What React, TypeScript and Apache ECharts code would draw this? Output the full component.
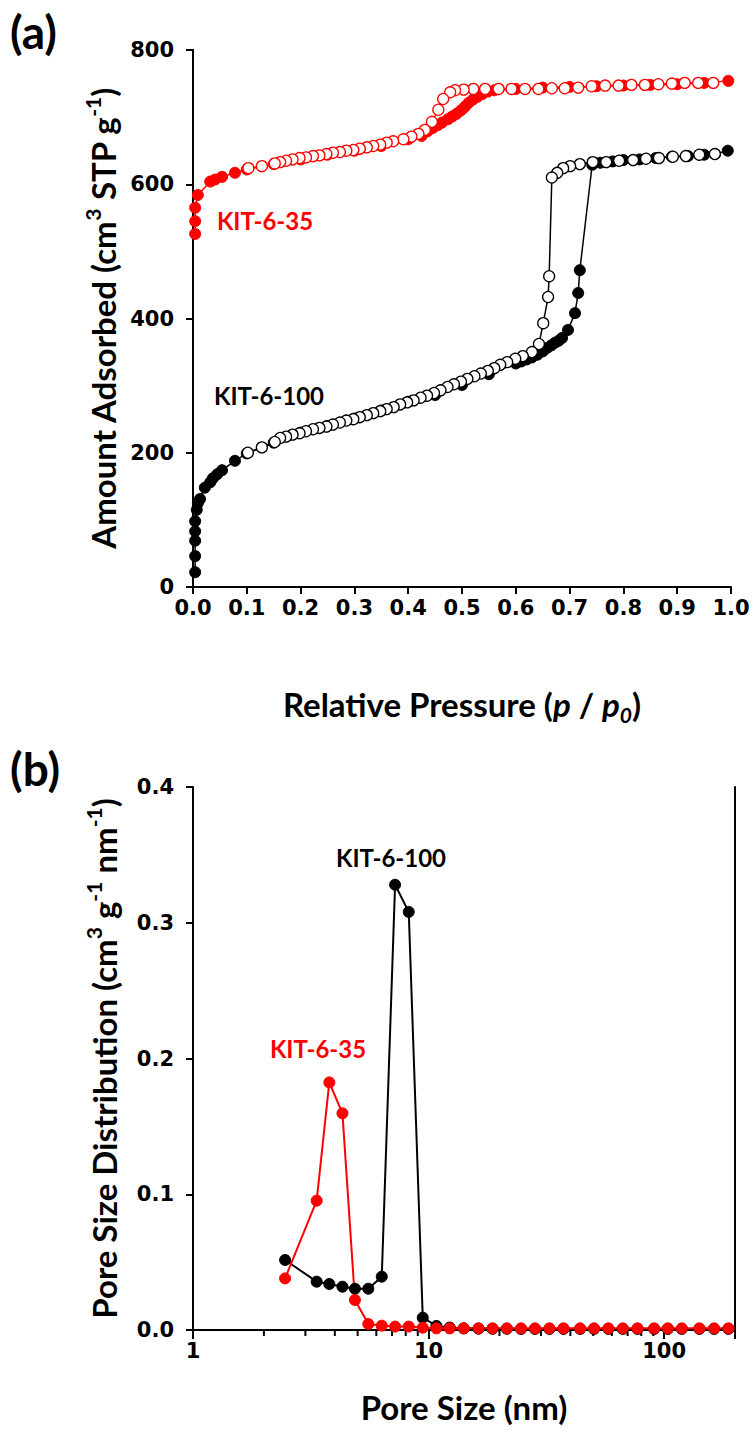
import React, { useEffect, useRef } from 'react';
import * as echarts from 'echarts';

// ---------- (a) N2 isotherms ----------
const k100AdsP = [0.004, 0.004, 0.004, 0.004, 0.004, 0.007, 0.009, 0.013, 0.022, 0.032, 0.037, 0.045, 0.054, 0.078, 0.10, 0.15, 0.20, 0.25, 0.30, 0.35, 0.40, 0.45, 0.50, 0.55, 0.60, 0.61, 0.62, 0.63, 0.64, 0.65, 0.658, 0.666, 0.673, 0.680, 0.686, 0.697, 0.710, 0.716, 0.719, 0.742, 0.757, 0.78, 0.80, 0.83, 0.86, 0.89, 0.92, 0.95, 0.97, 0.994];
const k100AdsQ = [22, 46, 69, 83, 98, 115, 125, 131, 148, 156, 162, 168, 174, 188, 199, 215, 230, 240, 251, 263, 276, 286, 301, 317, 333, 336, 339, 342, 346, 351, 356, 360, 364, 367, 371, 383, 408, 438, 472, 629, 632, 634, 636, 637, 639, 641, 642, 644, 645, 650];

const k100DesP = [0.970, 0.941, 0.916, 0.892, 0.866, 0.842, 0.818, 0.792, 0.768, 0.743, 0.719, 0.701, 0.688, 0.677, 0.667, 0.662, 0.660, 0.651, 0.643, 0.630, 0.613, 0.599, 0.584, 0.571, 0.560, 0.548, 0.535, 0.523, 0.510, 0.498, 0.485, 0.473, 0.460, 0.448, 0.435, 0.423, 0.410, 0.398, 0.385, 0.373, 0.360, 0.348, 0.335, 0.323, 0.310, 0.298, 0.285, 0.273, 0.260, 0.248, 0.235, 0.223, 0.210, 0.198, 0.185, 0.173, 0.162, 0.152, 0.128, 0.102];
const k100DesQ = [645, 644, 642, 641, 639, 638, 636, 635, 633, 633, 630, 627, 624, 617, 610, 463, 432, 393, 362, 350, 344, 340, 335, 331, 326, 322, 318, 314, 310, 306, 302, 298, 293, 289, 285, 282, 278, 275, 272, 268, 265, 262, 259, 256, 253, 250, 248, 245, 242, 239, 237, 235, 232, 229, 227, 224, 222, 216, 208, 200];

const k35AdsP = [0.004, 0.004, 0.004, 0.009, 0.032, 0.041, 0.054, 0.078, 0.10, 0.15, 0.20, 0.25, 0.30, 0.35, 0.40, 0.425, 0.436, 0.446, 0.455, 0.463, 0.474, 0.482, 0.490, 0.498, 0.505, 0.512, 0.520, 0.528, 0.537, 0.548, 0.56, 0.60, 0.65, 0.70, 0.75, 0.80, 0.85, 0.90, 0.95, 0.995];
const k35AdsQ = [526, 545, 565, 584, 604, 607, 611, 617, 622, 630, 637, 644, 650, 657, 667, 672, 679, 684, 688, 692, 697, 701, 705, 710, 715, 721, 726, 730, 734, 738, 740, 742, 744, 745, 746, 747, 748, 749, 751, 754];

const k35DesP = [0.967, 0.939, 0.914, 0.890, 0.865, 0.840, 0.815, 0.791, 0.766, 0.741, 0.716, 0.691, 0.667, 0.642, 0.617, 0.592, 0.568, 0.543, 0.521, 0.503, 0.487, 0.478, 0.465, 0.456, 0.444, 0.431, 0.419, 0.406, 0.391, 0.372, 0.360, 0.348, 0.335, 0.323, 0.310, 0.298, 0.285, 0.273, 0.260, 0.248, 0.235, 0.223, 0.210, 0.198, 0.185, 0.173, 0.162, 0.152, 0.128, 0.103];
const k35DesQ = [751, 751, 751, 750, 749, 748, 748, 747, 747, 746, 744, 743, 743, 742, 742, 742, 742, 742, 742, 741, 740, 737, 727, 711, 693, 681, 675, 671, 667, 664, 662, 659, 657, 655, 653, 651, 650, 648, 647, 645, 643, 642, 640, 639, 637, 635, 633, 631, 627, 624];

// ---------- (b) pore size distributions ----------
const poreSize = [2.46, 3.35, 3.79, 4.31, 4.87, 5.55, 6.33, 7.21, 8.24, 9.45, 10.8, 12.3, 14.1, 16.3, 18.7, 21.5, 24.7, 28.3, 32.6, 37.4, 44.0, 50.4, 58.0, 66.8, 77.1, 90.7, 103.7, 118.9, 141.2, 163.0, 187.6];
const psd100 = [0.0516, 0.0356, 0.0339, 0.0319, 0.0304, 0.0304, 0.0393, 0.328, 0.308, 0.0091, 0.003, 0.0018, 0.0012, 0.001, 0.0009, 0.0009, 0.0008, 0.0008, 0.0008, 0.0008, 0.0008, 0.0008, 0.0008, 0.0008, 0.0008, 0.0008, 0.0008, 0.0008, 0.0008, 0.0008, 0.0008];
const psd35 = [0.038, 0.0953, 0.1824, 0.1596, 0.0221, 0.0044, 0.0032, 0.0025, 0.0025, 0.0017, 0.0012, 0.0012, 0.0012, 0.0012, 0.0012, 0.0012, 0.0012, 0.0012, 0.0012, 0.0012, 0.0012, 0.0012, 0.0012, 0.0012, 0.0012, 0.0012, 0.0012, 0.0012, 0.0012, 0.0012, 0.0012];
const logMinorTicks = [2, 3, 4, 5, 6, 7, 8, 9, 20, 30, 40, 50, 60, 70, 80, 90];
const logMajorLabels = [1, 10, 100];

const zip = (a: number[], b: number[]) => a.map((v, i) => [v, b[i]]);

const RED = '#ff0000';
const BLACK = '#000000';
const TITLE_FONT = 'Lato';
const TICK_FONT = 'DejaVu Sans';

export default function App() {
  const ref = useRef<HTMLDivElement>(null);

  useEffect(() => {
    const chart = echarts.init(ref.current!, null, { renderer: 'svg' });

    const titleRich = {
      t: { fontFamily: TITLE_FONT, fontWeight: 'bold', fontSize: 33, lineHeight: 42, color: BLACK },
      i: { fontFamily: TITLE_FONT, fontWeight: 'bold', fontStyle: 'italic', fontSize: 33, lineHeight: 42, color: BLACK },
      b: { fontFamily: TITLE_FONT, fontWeight: 'bold', fontStyle: 'italic', fontSize: 21, lineHeight: 21, verticalAlign: 'bottom', color: BLACK },
      s: { fontFamily: TITLE_FONT, fontWeight: 'bold', fontSize: 21, lineHeight: 20, verticalAlign: 'top', color: BLACK },
    };

    const axisLine = { show: true, onZero: false, lineStyle: { color: BLACK, width: 2 } };
    const tickLabel = { color: BLACK, fontFamily: TICK_FONT, fontWeight: 'bold', fontSize: 21 };

    const filled = (color: string) => ({ color, borderColor: color, borderWidth: 1 });
    const open = (color: string) => ({ color: '#ffffff', borderColor: color, borderWidth: 1.3 });

    const lineSeries = (name: string, data: number[][], color: string, isOpen: boolean, xi: number, yi: number, lw: number) => ({
      name,
      type: 'line',
      xAxisIndex: xi,
      yAxisIndex: yi,
      data,
      symbol: 'circle',
      symbolSize: 11,
      showSymbol: true,
      lineStyle: { color, width: lw },
      itemStyle: isOpen ? open(color) : filled(color),
      emphasis: { disabled: true },
      silent: true,
      clip: false,
    });

    const option: any = {
      animation: false,
      backgroundColor: '#ffffff',
      grid: [
        { left: 193, top: 50, width: 538, height: 537 },
        { left: 193, top: 787, width: 542, height: 543 },
      ],
      xAxis: [
        {
          gridIndex: 0,
          type: 'value',
          min: 0,
          max: 1,
          interval: 0.1,
          axisLine,
          axisTick: { show: true, inside: false, length: 7, lineStyle: { color: BLACK, width: 2 } },
          axisLabel: { ...tickLabel, margin: 10, formatter: (v: number) => v.toFixed(1) },
          splitLine: { show: false },
          name: '{t|Relative Pressure (}{i|p}{t| / }{i|p}{b|0}{t|)}',
          nameLocation: 'middle',
          nameGap: 96,
          nameTextStyle: { rich: titleRich },
        },
        {
          gridIndex: 1,
          type: 'log',
          logBase: 10,
          min: 1,
          max: 200,
          axisLine,
          axisTick: { show: true, inside: false, length: 9, lineStyle: { color: BLACK, width: 2 } },
          axisLabel: {
            ...tickLabel,
            margin: 10,
            formatter: (v: number) => (logMajorLabels.some((m) => Math.abs(m - v) < 1e-6) ? String(Math.round(v)) : ''),
          },
          splitLine: { show: false },
          minorTick: { show: false },
          name: '{t|Pore Size (nm)}',
          nameLocation: 'middle',
          nameGap: 56,
          nameTextStyle: { rich: titleRich },
        },
      ],
      yAxis: [
        {
          gridIndex: 0,
          type: 'value',
          min: 0,
          max: 800,
          interval: 200,
          axisLine,
          axisTick: { show: true, inside: false, length: 7, lineStyle: { color: BLACK, width: 2 } },
          axisLabel: { ...tickLabel, margin: 19 },
          splitLine: { show: false },
          name: '{t|Amount Adsorbed (cm}{s|3}{t| STP g}{s|-1}{t|)}',
          nameLocation: 'middle',
          nameRotate: 90,
          nameGap: 68,
          nameTextStyle: { rich: titleRich },
        },
        {
          gridIndex: 0,
          type: 'value',
          position: 'right',
          min: 0,
          max: 800,
          axisLine: { show: true, lineStyle: { color: BLACK, width: 2 } },
          axisTick: { show: false },
          axisLabel: { show: false },
          splitLine: { show: false },
        },
        {
          gridIndex: 1,
          type: 'value',
          min: 0,
          max: 0.4,
          interval: 0.1,
          axisLine,
          axisTick: { show: true, inside: false, length: 7, lineStyle: { color: BLACK, width: 2 } },
          axisLabel: { ...tickLabel, margin: 19, formatter: (v: number) => v.toFixed(1) },
          splitLine: { show: false },
          name: '{t|Pore Size Distribution (cm}{s|3}{t| g}{s|-1}{t| nm}{s|-1}{t|)}',
          nameLocation: 'middle',
          nameRotate: 90,
          nameGap: 68,
          nameTextStyle: { rich: titleRich },
        },
        {
          gridIndex: 1,
          type: 'value',
          position: 'right',
          min: 0,
          max: 0.4,
          axisLine: { show: true, lineStyle: { color: BLACK, width: 2 } },
          axisTick: { show: false },
          axisLabel: { show: false },
          splitLine: { show: false },
        },
      ],
      series: [
        lineSeries('KIT-6-100 ads', zip(k100AdsP, k100AdsQ), BLACK, false, 0, 0, 1.5),
        lineSeries('KIT-6-100 des', zip(k100DesP, k100DesQ), BLACK, true, 0, 0, 1.5),
        lineSeries('KIT-6-35 ads', zip(k35AdsP, k35AdsQ), RED, false, 0, 0, 1.5),
        lineSeries('KIT-6-35 des', zip(k35DesP, k35DesQ), RED, true, 0, 0, 1.5),
        {
          type: 'custom',
          xAxisIndex: 1,
          yAxisIndex: 2,
          silent: true,
          clip: false,
          data: logMinorTicks.map((v) => [v, 0]),
          renderItem: (params: any, api: any) => {
            const p = api.coord([api.value(0), 0]);
            return {
              type: 'line',
              shape: { x1: p[0], y1: p[1], x2: p[0], y2: p[1] + 6 },
              style: { stroke: BLACK, lineWidth: 2 },
            };
          },
        },
        lineSeries('KIT-6-100 PSD', zip(poreSize, psd100), BLACK, false, 1, 2, 2),
        lineSeries('KIT-6-35 PSD', zip(poreSize, psd35), RED, false, 1, 2, 2),
      ],
      graphic: [
        { type: 'text', x: 10, y: 8, style: { text: '(a)', fill: BLACK, font: `bold 46px ${TITLE_FONT}`, align: 'left', verticalAlign: 'top' } },
        { type: 'text', x: 10, y: 745, style: { text: '(b)', fill: BLACK, font: `bold 46px ${TITLE_FONT}`, align: 'left', verticalAlign: 'top' } },
        { type: 'text', x: 265, y: 220, style: { text: 'KIT-6-35', fill: RED, font: `bold 24px ${TITLE_FONT}`, align: 'center', verticalAlign: 'middle' } },
        { type: 'text', x: 269, y: 395, style: { text: 'KIT-6-100', fill: BLACK, font: `bold 24px ${TITLE_FONT}`, align: 'center', verticalAlign: 'middle' } },
        { type: 'text', x: 391, y: 857, style: { text: 'KIT-6-100', fill: BLACK, font: `bold 24px ${TITLE_FONT}`, align: 'center', verticalAlign: 'middle' } },
        { type: 'text', x: 318, y: 1048, style: { text: 'KIT-6-35', fill: RED, font: `bold 24px ${TITLE_FONT}`, align: 'center', verticalAlign: 'middle' } },
      ],
    };

    chart.setOption(option);
    return () => chart.dispose();
  }, []);

  return (
    <div
      ref={ref}
      style={{ position: 'absolute', left: 0, top: 0, width: 753, height: 1441, background: '#ffffff' }}
    />
  );
}
